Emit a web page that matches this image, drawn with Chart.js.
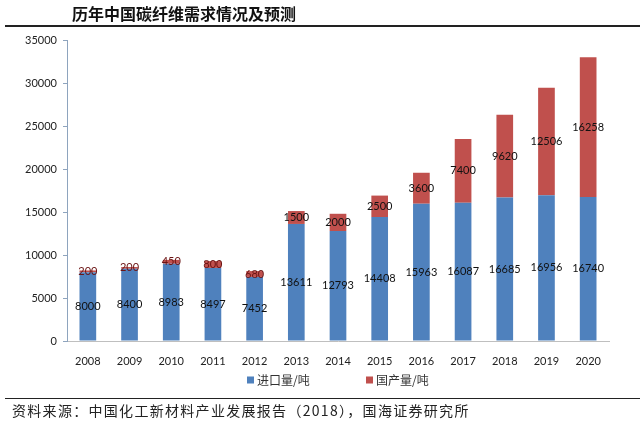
<!DOCTYPE html>
<html lang="zh">
<head>
<meta charset="UTF-8">
<title>历年中国碳纤维需求情况及预测</title>
<script src="https://cdn.jsdelivr.net/npm/chart.js"></script>
<style>
  html, body { margin: 0; padding: 0; background: #fff; }
  .page { position: relative; width: 640px; height: 425px; overflow: hidden; }
  #demandChart { position: absolute; left: 0; top: 0; }
  .title {
    position: absolute; left: 72px; top: 3px;
    font-family: "Noto Sans CJK SC", sans-serif; font-weight: bold;
    font-size: 16px; letter-spacing: 0px; color: #111; line-height: 20px;
  }
  .rule { position: absolute; left: 5px; right: 0; height: 2px; background: #222; }
  .source {
    position: absolute; left: 12px; top: 401px;
    font-family: "Noto Sans CJK SC", sans-serif; font-size: 14px; letter-spacing: 1.3px;
    color: #222; line-height: 18px;
  }
</style>
</head>
<body>
<div class="page">
  <canvas id="demandChart" width="640" height="425"></canvas>
  <div class="title">历年中国碳纤维需求情况及预测</div>
  <div class="rule" style="top:25px"></div>
  <div class="rule" style="top:398px; height:1px;"></div>
  <div class="source">资料来源：中国化工新材料产业发展报告（2018），国海证券研究所</div>
</div>

<script>
// chart data
const years = ['2008', '2009', '2010', '2011', '2012', '2013', '2014', '2015', '2016', '2017', '2018', '2019', '2020'];
const importTons = [8000, 8400, 8983, 8497, 7452, 13611, 12793, 14408, 15963, 16087, 16685, 16956, 16740];
const domesticTons = [200, 200, 450, 800, 680, 1500, 2000, 2500, 3600, 7400, 9620, 12506, 16258];
const yTicks = [0, 5000, 10000, 15000, 20000, 25000, 30000, 35000];

const blue = '#4F81BD';
const red = '#C0504D';

// value labels in the middle of each segment
const segmentLabels = {
  id: 'segmentLabels',
  afterDatasetsDraw(chart) {
    const ctx = chart.ctx;
    ctx.save();
    ctx.font = '11px Lato, "Liberation Sans", sans-serif';
    ctx.textAlign = 'center';
    ctx.textBaseline = 'middle';
    chart.data.datasets.forEach((ds, i) => {
      chart.getDatasetMeta(i).data.forEach((bar, j) => {
        const v = ds.data[j];
        ctx.fillStyle = v < 1000 ? '#6b1414' : '#111';
        ctx.fillText(String(v), bar.x, (bar.y + bar.base) / 2);
      });
    });
    ctx.restore();
  }
};

// legend under the axis
const bottomLegend = {
  id: 'bottomLegend',
  afterDraw(chart) {
    const ctx = chart.ctx;
    const cx = (chart.chartArea.left + chart.chartArea.right) / 2;
    const y = 380;
    const xs = [cx - 91, cx + 28];
    ctx.save();
    ctx.font = '12px "Noto Sans CJK SC", sans-serif';
    ctx.textBaseline = 'middle';
    chart.data.datasets.forEach((ds, i) => {
      ctx.fillStyle = ds.backgroundColor;
      ctx.fillRect(xs[i], y - 3.5, 7, 7);
      ctx.fillStyle = '#333';
      ctx.fillText(ds.label, xs[i] + 10, y);
    });
    ctx.restore();
  }
};

const tickFont = { family: 'Lato, "Liberation Sans", sans-serif', size: 11 };

const ctx = document.getElementById('demandChart').getContext('2d');
new Chart(ctx, {
  type: 'bar',
  data: {
    labels: years,
    datasets: [
      { label: '进口量/吨', data: importTons, backgroundColor: blue, barPercentage: 0.4, categoryPercentage: 1 },
      { label: '国产量/吨', data: domesticTons, backgroundColor: red, barPercentage: 0.4, categoryPercentage: 1 }
    ]
  },
  options: {
    responsive: false,
    animation: false,
    layout: { padding: { top: 40, left: 0, right: 31, bottom: 60 } },
    plugins: {
      legend: { display: false },
      tooltip: { enabled: false }
    },
    scales: {
      x: {
        stacked: true,
        grid: { display: false },
        border: { display: true, color: '#BFBFBF' },
        ticks: { color: '#222', font: tickFont, padding: 6, maxRotation: 0 },
        afterFit(scale) { scale.height = 24; }
      },
      y: {
        stacked: true,
        min: 0,
        max: 35000,
        afterBuildTicks(scale) { scale.ticks = yTicks.map(v => ({ value: v })); },
        grid: { drawOnChartArea: false, tickLength: 4, color: '#8EA4BE' },
        border: { display: true, color: '#8EA4BE' },
        ticks: { color: '#222', font: tickFont, padding: 6, callback: v => String(v) },
        afterFit(scale) { scale.width = 67; }
      }
    }
  },
  plugins: [segmentLabels, bottomLegend]
});
</script>
</body>
</html>
